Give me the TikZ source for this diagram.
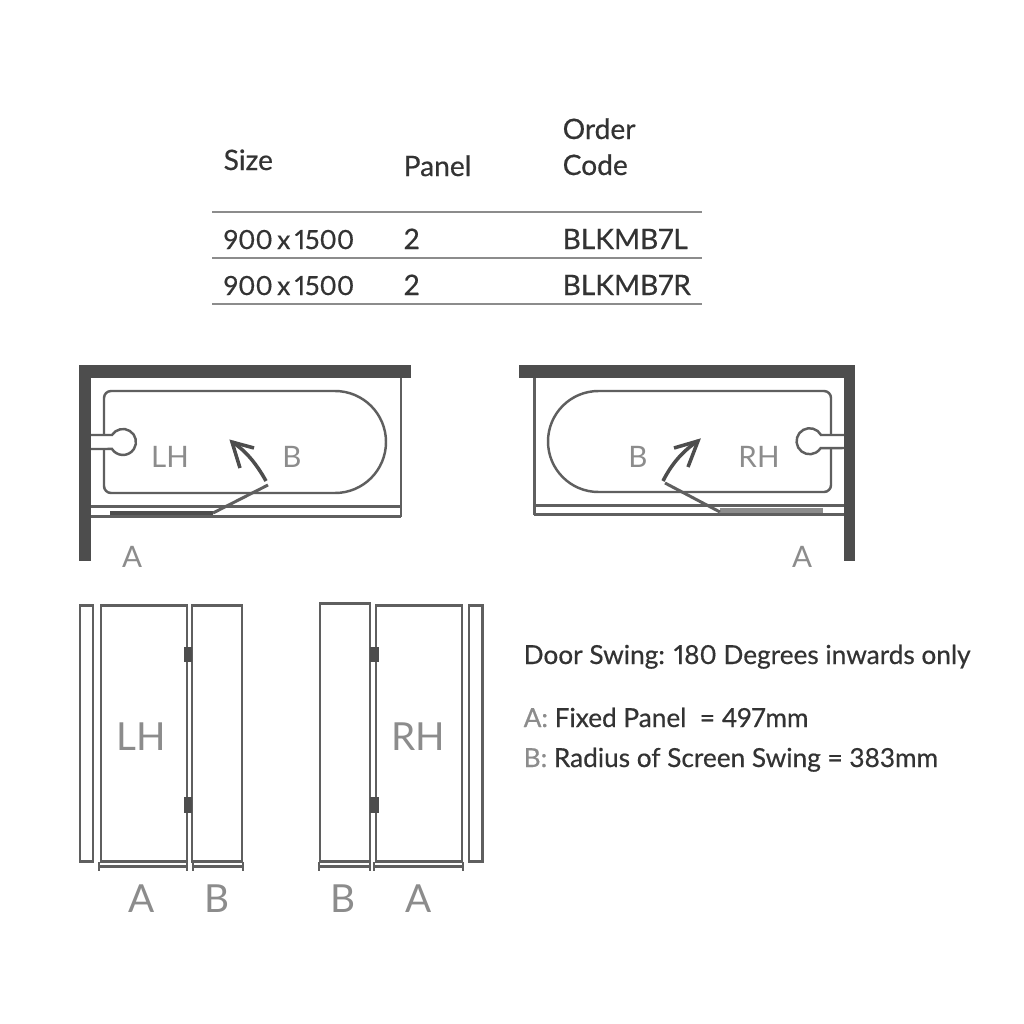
\documentclass[tikz,border=0pt]{standalone}
\usepackage{fontspec}
\usetikzlibrary{arrows.meta}
\setmainfont{Lato}[Numbers=Proportional]
\newfontfamily\medfont{Lato}[Numbers=Proportional, RawFeature={embolden=0.5}]
\definecolor{wallgrey}{HTML}{4D4D4D}
\definecolor{linegrey}{HTML}{5F5F5F}
\definecolor{labelgrey}{HTML}{8C8C8C}
\definecolor{textdark}{HTML}{333333}
\tikzset{
	wall/.style={fill=wallgrey, draw=none},
	outline/.style={draw=linegrey, line width=.85pt},
	bathline/.style={draw=linegrey, line width=.7pt},
	rule/.style={draw=labelgrey, line width=.4pt},
	hinge/.style={fill=wallgrey, draw=none},
	dimline/.style={draw=linegrey, line width=.6pt, {Bar[width=2.4pt]}-{Bar[width=2.4pt]}},
	swing/.style={draw=wallgrey, line width=1pt},
	tabletext/.style={anchor=base west, inner sep=0pt, text=textdark, font=\medfont\fontsize{8}{10}\selectfont},
	sizetext/.style={tabletext, font=\medfont\fontsize{7.5}{10}\selectfont},
	notetext/.style={anchor=base west, inner sep=0pt, text=textdark, font=\medfont\fontsize{7.45}{10}\selectfont},
	planlabel/.style={text=labelgrey, font=\fontsize{8.4}{10}\selectfont},
	biglabel/.style={text=labelgrey, font=\fontsize{11}{13}\selectfont}
}
\begin{document}
\begin{tikzpicture}[x=.01cm, y=-.01cm]
	\useasboundingbox (0,0) rectangle (1024,1024);
	\fill [white] (0,0) rectangle (1024,1024);

	% table
	\draw [rule] (212,212) -- (702,212);
	\draw [rule] (212,258) -- (702,258);
	\draw [rule] (212,304) -- (702,304);
	\node [tabletext] (size) at (223,170) {Size};
	\node [tabletext] (panel) at (403,176) {Panel};
	\node [tabletext] (order) at (562,139) {Order};
	\node [tabletext] (code) at (562,175) {Code};
	\node [sizetext] (sizea) at (223,249) {900\,x\,1500};
	\node [tabletext] (panela) at (403,249) {2};
	\node [tabletext] (codea) at (562,249) {BLKMB7L};
	\node [sizetext] (sizeb) at (223,295) {900\,x\,1500};
	\node [tabletext] (panelb) at (403,295) {2};
	\node [tabletext] (codeb) at (562,295) {BLKMB7R};

	% plan left
	\fill [wall] (79,365) rectangle (411,378);
	\fill [wall] (79,365) rectangle (91,561);
	\draw [outline] (401,378) -- (401,517);
	\draw [outline] (91,506) -- (401,506);
	\draw [outline] (91,516) -- (401,516);
	\draw [bathline] (104,435) -- (104,398) arc (180:270:7) -- (335,391) arc (-90:90:51) -- (111,493) arc (90:180:7) -- (104,449);
	\draw [bathline] (91,435) -- (112,435) arc (212.5:507.5:13) -- (91,449);
	\fill [wall] (110,511) rectangle (213,515);
	\draw [outline] (213,513) -- (268,485);
	\draw [swing] (266,481) .. controls (256,463) and (245,450) .. (232,442);
	\draw [swing] (240,468) -- (232,442) -- (254,448);
	\node [planlabel] (lhplan) at (170,457) {LH};
	\node [planlabel] (bplanl) at (292,457) {B};
	\node [planlabel] (aplanl) at (132,557) {A};

	% plan right
	\fill [wall] (519,365) rectangle (855,378);
	\fill [wall] (844,365) rectangle (855,561);
	\draw [outline] (534,378) -- (534,515);
	\draw [outline] (534,505) -- (844,505);
	\draw [outline] (534,514) -- (844,514);
	\draw [bathline] (831,435) -- (831,398) arc (0:-90:7) -- (598.5,391) arc (-90:-270:50.5) -- (824,492) arc (90:0:7) -- (831,448);
	\draw [bathline] (844,435) -- (821,435) arc (-28.6:-327.5:13) -- (844,448);
	\fill [labelgrey] (720,508) rectangle (823,513);
	\draw [outline] (720,512) -- (665,483);
	\draw [swing] (663,481) .. controls (672,463) and (684,450) .. (698,441);
	\draw [swing] (674,448) -- (698,441) -- (688,467);
	\node [planlabel] (bplanr) at (638,457) {B};
	\node [planlabel] (rhplan) at (759,457) {RH};
	\node [planlabel] (aplanr) at (802,557) {A};

	% elevation left
	\draw [outline] (80,605) rectangle (93,861);
	\draw [outline] (101,605) rectangle (187,861);
	\draw [outline] (192,605) rectangle (242,861);
	\fill [hinge] (184,647) rectangle (192,662);
	\fill [hinge] (184,797) rectangle (192,813);
	\draw [dimline] (98,866.5) -- (188,866.5);
	\draw [dimline] (192,866.5) -- (244,866.5);
	\node [biglabel] (lhelev) at (141,737) {LH};
	\node [biglabel] (aelevl) at (142,899) {A};
	\node [biglabel] (belevl) at (217,899) {B};

	% elevation right
	\draw [outline] (320,603) rectangle (370,861);
	\draw [outline] (376,605) rectangle (462,861);
	\draw [outline] (469,605) rectangle (482,861);
	\fill [hinge] (370,647) rectangle (379,662);
	\fill [hinge] (370,797) rectangle (379,813);
	\draw [dimline] (318,866.5) -- (371,866.5);
	\draw [dimline] (373,866.5) -- (464,866.5);
	\node [biglabel] (rhelev) at (418,737) {RH};
	\node [biglabel] (belevr) at (343,899) {B};
	\node [biglabel] (aelevr) at (419,899) {A};

	% notes
	\node [notetext] (swingnote) at (523,664) {Door Swing: 180 Degrees inwards only};
	\node [notetext] (anote) at (523,727) {\textcolor{labelgrey}{A:} Fixed Panel\ \ = 497mm};
	\node [notetext] (bnote) at (523,767) {\textcolor{labelgrey}{B:} Radius of Screen Swing = 383mm};
\end{tikzpicture}
\end{document}
